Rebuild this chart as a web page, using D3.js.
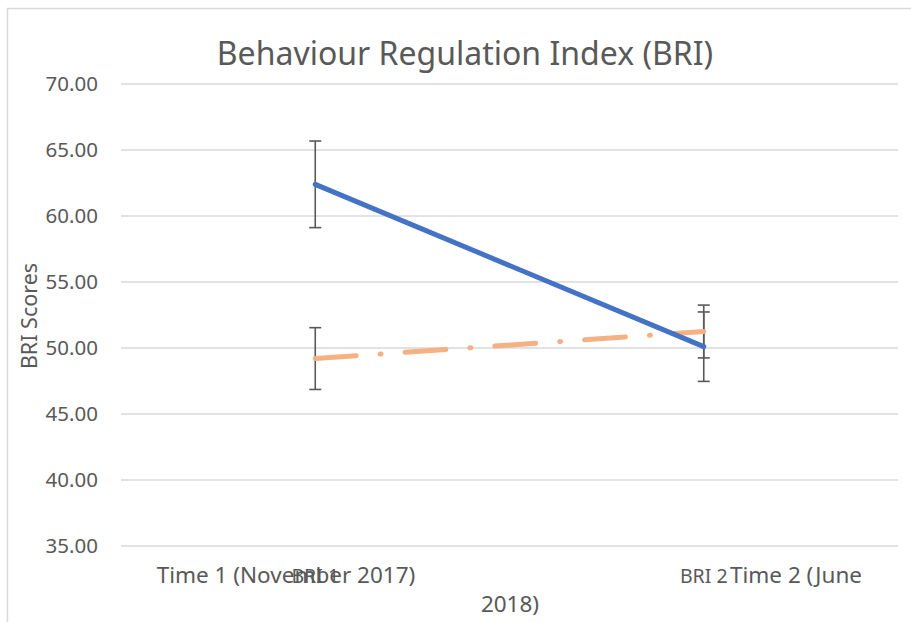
<!DOCTYPE html>
<html>
<head>
<meta charset="utf-8">
<script src="https://cdn.jsdelivr.net/npm/d3@7"></script>
<style>
  body { margin: 0; background: #fff; }
  text { fill: #595959; }
</style>
</head>
<body>
<div id="chart-area"></div>
<script>
// data
var categories = ["BRI 1", "BRI 2"];
var timeLabels = ["Time 1 (November 2017)", "Time 2 (June", "2018)"];
var seriesBlue = [62.4, 50.1];
var errBlue = [3.28, 2.63];
var seriesOrange = [49.2, 51.25];
var errOrange = [2.34, 2.0];
var yTicks = [35, 40, 45, 50, 55, 60, 65, 70];

var width = 911;
var height = 622;
var margin = {left: 121, right: 13, top: 84, bottom: 76};

var svg = d3.select("#chart-area")
    .append("svg")
    .attr("width", width)
    .attr("height", height);

// chart frame
svg.append("path")
    .attr("d", "M7.5," + height + "V8.5H" + width)
    .attr("fill", "none")
    .attr("stroke", "#d9d9d9")
    .attr("stroke-width", 1.5);

var x = d3.scaleBand()
    .domain(categories)
    .range([margin.left, width - margin.right]);

var y = d3.scaleLinear()
    .domain([35, 70])
    .range([height - margin.bottom, margin.top]);

// gridlines
svg.append("g")
    .selectAll("line")
    .data(yTicks)
    .enter()
    .append("line")
    .attr("x1", margin.left)
    .attr("x2", width - margin.right)
    .attr("y1", function(d) { return y(d); })
    .attr("y2", function(d) { return y(d); })
    .attr("stroke", "#d9d9d9")
    .attr("stroke-width", 1.3);

var yAxis = d3.axisLeft(y)
    .tickValues(yTicks)
    .tickSize(0)
    .tickPadding(23)
    .tickFormat(d3.format(".2f"));

var yAxisGroup = svg.append("g")
    .attr("transform", "translate(" + margin.left + ",0)")
    .call(yAxis);
yAxisGroup.select(".domain").remove();
yAxisGroup.selectAll("text")
    .attr("font-family", "'Noto Sans', sans-serif")
    .attr("font-size", "20.5px")
    .attr("fill", "#595959");

// title
svg.append("text")
    .attr("x", 465)
    .attr("y", 65)
    .attr("text-anchor", "middle")
    .attr("font-family", "'Noto Sans', sans-serif")
    .attr("font-size", "32px")
    .text("Behaviour Regulation Index (BRI)");

// y label
svg.append("text")
    .attr("transform", "translate(37,316) rotate(-90)")
    .attr("text-anchor", "middle")
    .attr("font-family", "'Noto Sans', sans-serif")
    .attr("font-size", "21.5px")
    .text("BRI Scores");

// x category labels
var xAxis = d3.axisBottom(x).tickSize(0).tickPadding(0);
var xAxisGroup = svg.append("g")
    .attr("transform", "translate(0," + (height - margin.bottom) + ")")
    .call(xAxis);
xAxisGroup.select(".domain").remove();
xAxisGroup.selectAll("text")
    .attr("dy", null)
    .attr("y", 37)
    .attr("font-family", "'Noto Sans', sans-serif")
    .attr("font-size", "19.5px")
    .attr("fill", "#595959");

// overlapping time labels
var timeX = [286, 796, 510];
var timeY = [583, 583, 612];
timeLabels.forEach(function(t, i) {
    svg.append("text")
        .attr("x", timeX[i]).attr("y", timeY[i])
        .attr("text-anchor", "middle")
        .attr("font-family", "'Noto Sans', sans-serif")
        .attr("font-size", "22.5px")
        .text(t);
});

function cx(i) { return x(categories[i]) + x.bandwidth() / 2; }

var line = d3.line()
    .x(function(d, i) { return cx(i); })
    .y(function(d) { return y(d); });

// error bars
function errorBars(vals, errs) {
    var g = svg.append("g")
        .attr("stroke", "#595959")
        .attr("stroke-width", 1.6);
    vals.forEach(function(v, i) {
        var px = cx(i);
        g.append("line")
            .attr("x1", px).attr("x2", px)
            .attr("y1", y(v + errs[i])).attr("y2", y(v - errs[i]));
        [v + errs[i], v - errs[i]].forEach(function(e) {
            g.append("line")
                .attr("x1", px - 6).attr("x2", px + 6)
                .attr("y1", y(e)).attr("y2", y(e));
        });
    });
}

errorBars(seriesBlue, errBlue);
errorBars(seriesOrange, errOrange);

svg.append("path")
    .datum(seriesOrange)
    .attr("d", line)
    .attr("fill", "none")
    .attr("stroke", "#f4b183")
    .attr("stroke-width", 5)
    .attr("stroke-linecap", "round")
    .attr("stroke-dasharray", "41 24 1 24");

svg.append("path")
    .datum(seriesBlue)
    .attr("d", line)
    .attr("fill", "none")
    .attr("stroke", "#4472c4")
    .attr("stroke-width", 5)
    .attr("stroke-linecap", "round");
</script>
</body>
</html>
